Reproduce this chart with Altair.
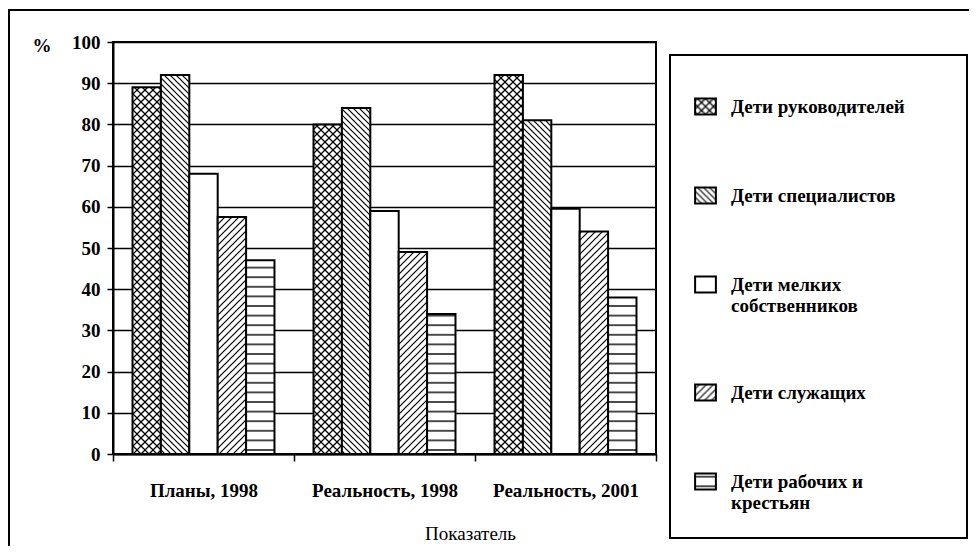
import json
import altair as alt
import pandas as pd
import jinja2

# ---------------- data ----------------
groups = ["Планы, 1998", "Реальность, 1998", "Реальность, 2001"]
categories = [
    "Дети руководителей",
    "Дети специалистов",
    "Дети мелких собственников",
    "Дети служащих",
    "Дети рабочих и крестьян",
]
v_rukovoditeli = [89, 80, 92]
v_specialisty = [92, 84, 81]
v_sobstvenniki = [68, 59, 59.5]
v_sluzhashchie = [57.5, 49, 54]
v_rabochie = [47, 34, 38]
y_ticks = [0, 10, 20, 30, 40, 50, 60, 70, 80, 90, 100]

legend_lines = {
    "Дети мелких собственников": ["Дети мелких", "собственников"],
    "Дети рабочих и крестьян": ["Дети рабочих и", "крестьян"],
}

series = [v_rukovoditeli, v_specialisty, v_sobstvenniki, v_sluzhashchie, v_rabochie]
rows = []
for cat, vals in zip(categories, series):
    for g, v in zip(groups, vals):
        rows.append({"group": g, "category": cat, "value": v})
df = pd.DataFrame(rows)

# pattern fills (defined as SVG <pattern>s in the page template)
fills = ["url(#pCross)", "url(#pBack)", "white", "url(#pFwd)", "url(#pHoriz)"]

FONT = "'Liberation Serif', 'Times New Roman', Times, 'DejaVu Serif', serif"

label_expr = " : ".join(
    f"datum.label == '{k}' ? {json.dumps(v, ensure_ascii=False)}"
    for k, v in legend_lines.items()
) + " : datum.label"

bars = alt.Chart(df).mark_bar(stroke="black", strokeWidth=2).encode(
    x=alt.X(
        "group:N",
        sort=groups,
        scale=alt.Scale(paddingInner=0, paddingOuter=0),
        axis=alt.Axis(
            title="Показатель",
            labelAngle=0,
            tickBand="extent",
            tickSize=7,
            tickColor="black",
            tickWidth=1.5,
            domainColor="black",
            domainWidth=2,
            labelFont=FONT,
            labelFontSize=19,
            labelFontWeight="bold",
            labelColor="black",
            labelPadding=20,
            labelLimit=300,
            titleFont=FONT,
            titleFontSize=19,
            titleFontWeight="normal",
            titleColor="black",
            titleX=357,
            titleY=79,
            titleAlign="center",
            titleBaseline="middle",
            grid=False,
        ),
    ),
    xOffset=alt.XOffset(
        "category:N",
        sort=categories,
        scale=alt.Scale(paddingInner=0, paddingOuter=0.687),
    ),
    y=alt.Y(
        "value:Q",
        scale=alt.Scale(domain=[0, 100], nice=False),
        axis=alt.Axis(
            values=y_ticks,
            title="%",
            titleAngle=0,
            titleX=-81,
            titleY=3,
            titleAlign="left",
            titleBaseline="middle",
            titleFont=FONT,
            titleFontSize=19,
            titleFontWeight="bold",
            titleColor="black",
            labelFont=FONT,
            labelFontSize=19,
            labelFontWeight="bold",
            labelColor="black",
            labelPadding=7,
            tickSize=6,
            tickColor="black",
            tickWidth=1.5,
            domainColor="black",
            domainWidth=2,
            grid=True,
            gridColor="black",
            gridWidth=1.5,
            gridOpacity=1,
        ),
    ),
    fill=alt.Fill(
        "category:N",
        sort=categories,
        scale=alt.Scale(domain=categories, range=fills),
        legend=alt.Legend(
            title=None,
            orient="none",
            legendX=583,
            legendY=55,
            padding=0,
            symbolType="M-1.3,-1H1.3V1H-1.3Z",
            symbolSize=256,
            symbolStrokeColor="black",
            symbolStrokeWidth=2,
            symbolOpacity=1,
            labelFont=FONT,
            labelFontSize=19,
            labelFontWeight="bold",
            labelColor="black",
            labelOffset=16,
            labelLimit=400,
            rowPadding=64,
            labelExpr=label_expr,
        ),
    ),
)

frame_df = pd.DataFrame({"k": [0]})
outer_frame = alt.Chart(frame_df).mark_rect(
    fill="white", fillOpacity=0, stroke="black", strokeWidth=2
).encode(
    x=alt.value(-104), x2=alt.value(1400), y=alt.value(-32), y2=alt.value(900)
)
legend_box = alt.Chart(frame_df).mark_rect(
    fill="white", fillOpacity=0, stroke="black", strokeWidth=2
).encode(
    x=alt.value(557), x2=alt.value(854), y=alt.value(13), y2=alt.value(496)
)

chart = alt.layer(outer_frame, legend_box, bars).properties(
    width=543,
    height=412,
    padding={"left": 105, "top": 34, "right": 313, "bottom": 92},
    autosize=alt.AutoSizeParams(type="none"),
    background="white",
).configure_view(stroke="black", strokeWidth=2)

TEMPLATE = jinja2.Template("""<!DOCTYPE html>
<html>
<head>
  <meta charset="utf-8">
  <style>
    #{{ output_div }}.vega-embed { width: 100%; display: flex; }
    #{{ output_div }}.vega-embed details,
    #{{ output_div }}.vega-embed details summary { position: relative; }
  </style>
  <script type="text/javascript" src="{{ base_url }}/vega@{{ vega_version }}"></script>
  <script type="text/javascript" src="{{ base_url }}/vega-lite@{{ vegalite_version }}"></script>
  <script type="text/javascript" src="{{ base_url }}/vega-embed@{{ vegaembed_version }}"></script>
</head>
<body>
  <svg width="0" height="0" style="position:absolute;left:0;top:0" aria-hidden="true">
    <defs>
      <pattern id="pCross" patternUnits="userSpaceOnUse" width="8" height="8">
        <rect width="8" height="8" fill="#fff"/>
        <path d="M-2,-2L10,10M10,-2L-2,10" stroke="#000" stroke-width="1.3" fill="none"/>
      </pattern>
      <pattern id="pBack" patternUnits="userSpaceOnUse" width="6" height="6">
        <rect width="6" height="6" fill="#fff"/>
        <path d="M-1,-1L7,7M-1,5L1,7M5,-1L7,1" stroke="#000" stroke-width="1.2" fill="none"/>
      </pattern>
      <pattern id="pFwd" patternUnits="userSpaceOnUse" width="7" height="7">
        <rect width="7" height="7" fill="#fff"/>
        <path d="M-1,8L8,-1M-1,1L1,-1M6,8L8,6" stroke="#000" stroke-width="1.2" fill="none"/>
      </pattern>
      <pattern id="pHoriz" patternUnits="userSpaceOnUse" width="10" height="9.6">
        <rect width="10" height="9.6" fill="#fff"/>
        <path d="M-1,4.8H11" stroke="#000" stroke-width="1.4" fill="none"/>
      </pattern>
    </defs>
  </svg>
  <div id="{{ output_div }}"></div>
  <script>
    (function(vegaEmbed) {
      var spec = {{ spec }};
      var embedOpt = {{ embed_options }};
      function showError(el, error){
        el.innerHTML = ('<div style="color:red;"><p>JavaScript Error: ' + error.message + '</p></div>');
        throw error;
      }
      const el = document.getElementById('{{ output_div }}');
      vegaEmbed("#{{ output_div }}", spec, embedOpt).catch(error => showError(el, error));
    })(vegaEmbed);
  </script>
</body>
</html>
""")

chart.save("out.html", embed_options={"renderer": "svg", "actions": False}, template=TEMPLATE)
